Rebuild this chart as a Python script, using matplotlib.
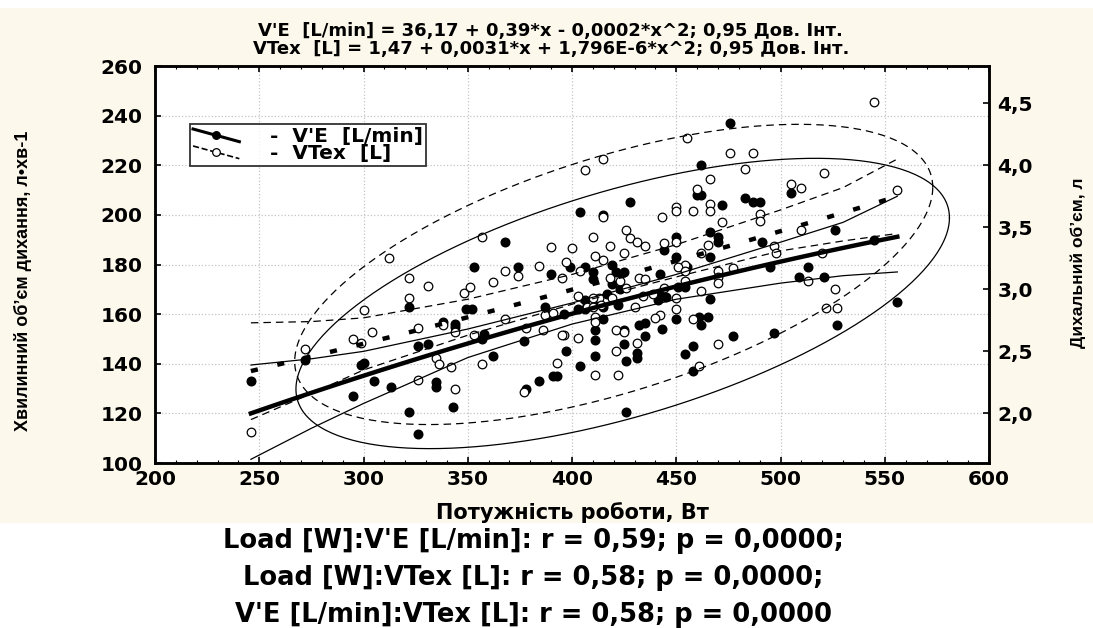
import numpy as np
import matplotlib
matplotlib.use("Agg")
import matplotlib.pyplot as plt
from matplotlib.lines import Line2D
from matplotlib.legend_handler import HandlerBase
from matplotlib.patches import Rectangle
from matplotlib.ticker import FuncFormatter, MultipleLocator

# V'E [L/min] vs load (filled dots)
ve_x = [476, 462, 428, 404, 415, 460, 462, 483, 487, 490, 505, 472, 419, 399, 406, 450, 466, 470, 470, 444,
        450, 466, 491, 495, 513, 526, 545, 455, 368, 353, 374, 390, 410, 421, 425, 410, 419, 423, 442, 454,
        451, 442, 445, 466, 406, 406, 387, 322, 349, 352, 422, 417, 412, 441, 415, 403, 396, 509, 521, 556,
        415, 411, 411, 411, 404, 397, 425, 425, 426, 432, 435, 435, 431, 431, 443, 450, 461, 465, 462, 458,
        454, 458, 477, 497, 527, 426, 246, 272, 300, 299, 295, 305, 313, 322, 326, 326, 331, 338, 344, 344,
        335, 335, 343, 358, 357, 362, 377, 378, 384, 391, 393]
ve_y = [237, 220, 205, 201, 200, 208, 208, 207, 205, 205, 209, 204, 180, 179, 179, 191, 193, 191, 189, 186,
        183, 183, 189, 179, 179, 194, 190, 179, 189, 179, 179, 176, 177, 177, 177, 174, 172, 170, 176, 171,
        171, 168, 167, 166, 165.5, 162, 163, 163, 162, 162, 163.5, 168, 166, 165.5, 163, 162, 160, 175, 175, 165,
        158, 153.5, 149.5, 143, 139, 145, 153.5, 148, 141, 155.5, 156.5, 151, 144.5, 142.5, 154, 158, 159, 159, 155.5, 147,
        144, 137, 151, 152.5, 155.5, 120.5, 133, 141.7, 140.5, 139.5, 127, 133, 130.7, 120.6, 111.6, 147, 148, 156.7, 155, 156,
        132.7, 130.7, 122.6, 152, 150, 143, 149, 130, 133, 135, 135]

# VTex [L] vs load (open dots)
vt_x = [545, 455, 415, 406, 476, 487, 483, 521, 505, 510, 556, 466, 460, 450, 450, 458, 466, 466, 443, 415,
        426, 410, 428, 431, 435, 418, 425, 411, 415, 400, 397, 444, 450, 490, 490, 472, 465, 462, 497, 498,
        510, 520, 454, 451, 477, 357, 390, 312, 384, 368, 374, 362, 348, 351, 331, 322, 322, 404, 418, 423,
        432, 435, 426, 413, 410, 414, 403, 407, 410, 430, 454, 454, 444, 462, 434, 470, 470, 450, 470, 513,
        526, 522, 527, 450, 439, 419, 411, 411, 442, 440, 458, 396, 403, 421, 425, 431, 421, 411, 422, 461,
        470, 246, 272, 295, 299, 304, 300, 326, 335, 336, 326, 342, 344, 338, 344, 353, 357, 368, 378, 377,
        386, 387, 391, 395, 395, 393]
vt_l = [4.51, 4.22, 4.05, 3.96, 4.10, 4.10, 3.97, 3.94, 3.85, 3.82, 3.80, 3.89, 3.81, 3.66, 3.63, 3.63, 3.69, 3.63, 3.58, 3.58,
        3.48, 3.42, 3.41, 3.38, 3.35, 3.35, 3.29, 3.27, 3.24, 3.33, 3.22, 3.37, 3.38, 3.61, 3.55, 3.54, 3.36, 3.29, 3.35, 3.29,
        3.48, 3.29, 3.20, 3.18, 3.17, 3.42, 3.34, 3.25, 3.19, 3.15, 3.11, 3.06, 2.97, 3.02, 3.03, 3.09, 2.93, 3.15, 3.09, 3.07,
        3.09, 3.08, 3.01, 2.93, 2.93, 2.87, 2.95, 2.86, 2.86, 2.86, 3.15, 3.07, 3.01, 2.99, 2.95, 3.15, 3.10, 2.84, 3.05, 3.07,
        3.00, 2.85, 2.85, 2.93, 2.96, 2.93, 2.78, 2.74, 2.79, 2.77, 2.76, 2.63, 2.61, 2.67, 2.66, 2.57, 2.50, 2.31, 2.31, 2.38,
        2.56, 1.85, 2.52, 2.60, 2.57, 2.66, 2.83, 2.69, 2.45, 2.40, 2.27, 2.37, 2.20, 2.71, 2.66, 2.63, 2.40, 2.76, 2.69, 2.17,
        2.67, 2.79, 2.81, 3.09, 2.63, 2.41]

# quadratic fits printed in the title
ve_coef = [36.17, 0.39, -0.0002]
vt_coef = [1.47, 0.0031, 1.796e-6]
fit_range = [246, 556]

# 0.95 confidence bands
ci_x = [246, 275, 300, 350, 400, 450, 500, 530, 556]
ve_ci_hi = [139.5, 142, 145, 154, 164.5, 176, 189, 197, 207.5]
ve_ci_lo = [101.5, 114, 124, 142.5, 156, 166, 172.5, 175.5, 177]
vt_ci_hi = [2.73, 2.74, 2.77, 2.92, 3.12, 3.36, 3.64, 3.82, 4.05]
vt_ci_lo = [1.95, 2.16, 2.35, 2.63, 2.88, 3.10, 3.31, 3.39, 3.45]

# 0.95 ellipses: centre x, centre y, half width, half height, r
ve_ell = [424.3, 164.3, 156.7, 58.5, 0.59]
vt_ell = [420.0, 3.12, 153.0, 1.21, 0.58]

title_lines = ["V'E  [L/min] = 36,17 + 0,39*x - 0,0002*x^2; 0,95 Дов. Інт.",
               "VTex  [L] = 1,47 + 0,0031*x + 1,796E-6*x^2; 0,95 Дов. Інт."]
corr_lines = ["Load [W]:V'E [L/min]: r = 0,59; p = 0,0000;",
              "Load [W]:VTex [L]: r = 0,58; p = 0,0000;",
              "V'E [L/min]:VTex [L]: r = 0,58; p = 0,0000"]

plt.rcParams['font.family'] = ['DejaVu Sans']
narrow = ['Liberation Sans Narrow', 'Liberation Sans', 'DejaVu Sans']
cream = '#fdf8ec'

fig = plt.figure(figsize=(10.93, 6.28), dpi=100)
fig.patches.append(Rectangle((0, 0.167), 1, 0.820, transform=fig.transFigure,
                             facecolor=cream, edgecolor='none', zorder=-10))

ax = fig.add_axes([0.1418, 0.2627, 0.7631, 0.6322])
ax2 = ax.twinx()
ax.set_xlim(200, 600)
ax.set_ylim(100, 260)
ax2.set_ylim(1.6, 4.8)
ax.set_facecolor('white')

ax.xaxis.set_major_locator(MultipleLocator(50))
ax.xaxis.set_minor_locator(MultipleLocator(10))
ax.yaxis.set_major_locator(MultipleLocator(20))
ax2.yaxis.set_major_locator(MultipleLocator(0.5))
ax2.yaxis.set_major_formatter(FuncFormatter(lambda v, p: f'{v:.1f}'.replace('.', ',')))
ax.grid(True, which='major', color='#c4c4c4', linestyle=':', linewidth=0.9)

vt_tr = ax2.transData

ax.plot(ve_x, ve_y, 'o', ms=6.2, mfc='black', mec='black', zorder=3)
ax.plot(vt_x, vt_l, 'o', ms=6.2, mfc='white', mec='black', mew=0.9, zorder=4, transform=vt_tr)

xs = np.linspace(fit_range[0], fit_range[1], 120)
ve_fit = np.polyval(ve_coef[::-1], xs)
vt_fit = np.polyval(vt_coef[::-1], xs)
ax.plot(xs, ve_fit, color='black', lw=3.2, zorder=6)
ax.plot(xs, vt_fit, color='black', lw=3.2, linestyle=(0, (1.6, 4.5)), zorder=6, transform=vt_tr)

ax.plot(ci_x, ve_ci_hi, color='black', lw=0.9, zorder=5)
ax.plot(ci_x, ve_ci_lo, color='black', lw=0.9, zorder=5)
ax.plot(ci_x, vt_ci_hi, color='black', lw=0.9, ls=(0, (6, 4)), zorder=5, transform=vt_tr)
ax.plot(ci_x, vt_ci_lo, color='black', lw=0.9, ls=(0, (6, 4)), zorder=5, transform=vt_tr)

t = np.linspace(0, 2 * np.pi, 300)
cx, cy, rx, ry, r = ve_ell
ax.plot(cx + rx * np.cos(t), cy + ry * np.cos(t - np.arccos(r)), color='black', lw=0.9, zorder=5)
cx, cy, rx, ry, r = vt_ell
ax.plot(cx + rx * np.cos(t), cy + ry * np.cos(t - np.arccos(r)), color='black', lw=0.9,
        ls=(0, (6, 4)), zorder=5, transform=vt_tr)

for a in (ax, ax2):
    for s in a.spines.values():
        s.set_linewidth(1.8)
ax.tick_params(axis='both', which='major', direction='in', length=4, width=1.2,
               top=True, labelsize=14.5)
ax.tick_params(axis='y', pad=9)
ax.tick_params(axis='x', pad=5)
ax.tick_params(axis='x', which='minor', direction='in', length=2, width=0.8, top=True)
ax2.tick_params(axis='y', direction='in', length=4, width=1.2, labelsize=14.5, pad=6)
for lab in ax.get_xticklabels() + ax.get_yticklabels() + ax2.get_yticklabels():
    lab.set_fontweight('bold')

ax.set_xlabel('Потужність роботи, Вт', fontsize=15, fontweight='bold')
ax.xaxis.set_label_coords(0.5, -0.097)
ax.set_ylabel('Хвилинний об’єм дихання, л•хв-1', fontsize=13, fontweight='bold', family=narrow)
ax.yaxis.set_label_coords(-0.148, 0.46)
ax2.set_ylabel('Дихальний об’єм, л', fontsize=12.5, fontweight='bold', family=narrow)
ax2.yaxis.set_label_coords(1.098, 0.505)


class SlantHandler(HandlerBase):
    def create_artists(self, legend, orig, xd, yd, width, height, fontsize, trans):
        x0, x1 = -xd, -xd + width
        y0, y1 = -yd + height * 0.95, -yd + height * 0.05
        ln = Line2D([x0, x1], [y0, y1], color='black', lw=orig.get_linewidth(),
                    linestyle=orig.get_linestyle())
        mk = Line2D([(x0 + x1) / 2], [(y0 + y1) / 2], marker='o', ms=5.5,
                    mfc=orig.get_markerfacecolor(), mec='black', mew=0.9, linestyle='none')
        ln.set_transform(trans)
        mk.set_transform(trans)
        return [ln, mk]


h1 = Line2D([], [], color='black', lw=2.2, marker='o', mfc='black')
h2 = Line2D([], [], color='black', lw=1.2, ls=(0, (3, 2)), marker='o', mfc='white')
leg = ax.legend([h1, h2], ['-  V\'E  [L/min]', '-  VTex  [L]'], loc='upper left',
                bbox_to_anchor=(0.042, 0.853), handler_map={Line2D: SlantHandler()},
                prop={'weight': 'bold', 'size': 14.5}, frameon=True, fancybox=False,
                borderpad=0.15, labelspacing=-0.1, handlelength=2.3, handletextpad=1.5,
                borderaxespad=0)
leg.get_frame().set_edgecolor('black')
leg.get_frame().set_linewidth(1.3)
leg.set_zorder(10)

fig.text(0.504, 0.950, title_lines[0], ha='center', va='center', fontsize=13,
         fontweight='bold')
fig.text(0.504, 0.922, title_lines[1], ha='center', va='center', fontsize=13,
         fontweight='bold')

corr_y = [0.128, 0.068, 0.009]
for yy, line in zip(corr_y, corr_lines):
    fig.text(0.488, yy, line, ha='center', va='baseline', fontsize=18.5, fontweight='bold')

fig.savefig('out.png', dpi=100, facecolor='white')
